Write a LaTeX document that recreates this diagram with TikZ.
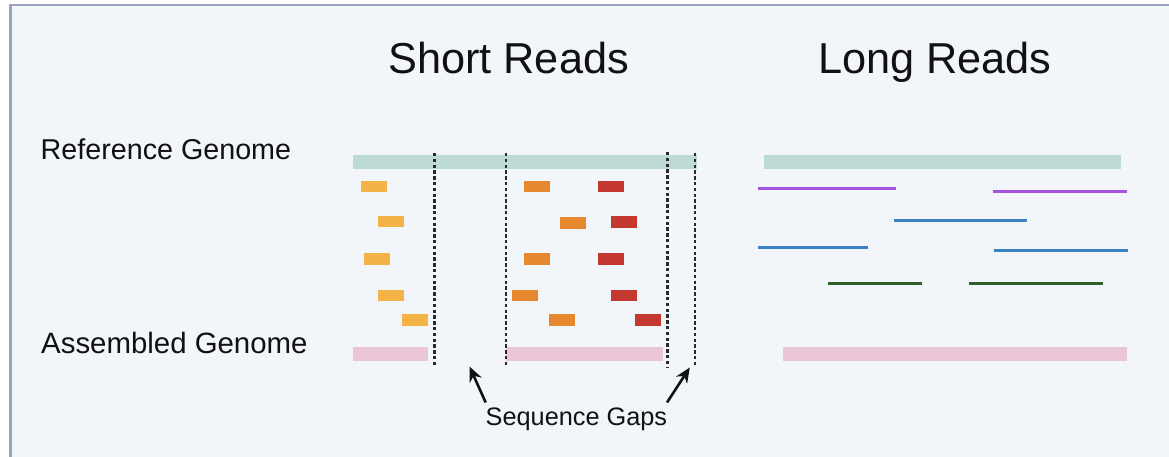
\documentclass[tikz,border=0pt]{standalone}
\usepackage{fontspec}
\setmainfont{Liberation Sans}
\usetikzlibrary{arrows.meta}
\definecolor{bgc}{HTML}{F2F5FA}
\definecolor{framec}{HTML}{9AA3C2}
\definecolor{refc}{HTML}{BDDAD5}
\definecolor{asmc}{HTML}{EBC5D8}
\definecolor{yelc}{HTML}{F4B347}
\definecolor{orac}{HTML}{E6892E}
\definecolor{redc}{HTML}{C4382F}
\definecolor{purc}{HTML}{A353DF}
\definecolor{bluc}{HTML}{3B82C4}
\definecolor{grnc}{HTML}{2E5E2A}
\definecolor{inkc}{HTML}{111111}
\tikzset{
  lbl/.style={inner sep=0pt, anchor=base west, text=inkc},
  refbar/.style={fill=refc},
  asmbar/.style={fill=asmc},
  yread/.style={fill=yelc},
  oread/.style={fill=orac},
  rread/.style={fill=redc},
  lread/.style={line width=2.8pt},
  gapline/.style={line width=2.7pt, draw=inkc!90, dash pattern=on 3.4pt off 2.4pt},
  gaparrow/.style={line width=2.6pt, draw=inkc, -{Stealth[length=15pt,width=13pt]}}
}
\begin{document}
\begin{tikzpicture}[x=1pt,y=-1pt]
\useasboundingbox (0,0) rectangle (1169,457);
\fill[white] (0,0) rectangle (1169,457);
\fill[bgc] (10,5) rectangle (1169,457);
\draw[framec, line width=2.5pt] (10.25,470) -- (10.25,5.25) -- (1180,5.25);

% titles
\node[lbl, font=\fontsize{43.3}{50}\selectfont] (tshort) at (388,74) {Short Reads};
\node[lbl, font=\fontsize{43.3}{50}\selectfont] (tlong) at (818,74) {Long Reads};
\node[lbl, font=\fontsize{28.7}{32}\selectfont] (tref) at (40.5,160) {Reference Genome};
\node[lbl, font=\fontsize{29.4}{32}\selectfont] (tasm) at (41,353) {Assembled Genome};

% short reads: reference and assembled
\fill[refbar] (353,155) rectangle (697,169);
\fill[asmbar] (353,347) rectangle (428,361);
\fill[asmbar] (506,347) rectangle (663,361);

% yellow reads
\fill[yread] (361,181) rectangle (387,192);
\fill[yread] (378,216) rectangle (404,227);
\fill[yread] (364,253) rectangle (390,264.5);
\fill[yread] (378,290) rectangle (404,301);
\fill[yread] (401.5,314) rectangle (427.5,325.5);
% orange reads
\fill[oread] (524,181) rectangle (550,192);
\fill[oread] (560,217) rectangle (586,228.5);
\fill[oread] (524,253) rectangle (550,264.5);
\fill[oread] (512,290) rectangle (538,301);
\fill[oread] (549,314) rectangle (575,325.5);
% red reads
\fill[rread] (597.5,181) rectangle (623.5,192);
\fill[rread] (611,216) rectangle (637,227.5);
\fill[rread] (597.5,253) rectangle (623.5,264.5);
\fill[rread] (611,290) rectangle (637,301);
\fill[rread] (634.5,314) rectangle (660.5,325.5);

% gap boundaries
\draw[gapline] (434.3,153) -- (434.3,367);
\draw[gapline] (506,153) -- (506,367);
\draw[gapline] (667.5,152) -- (667.5,367);
\draw[gapline] (695,153) -- (695,367);

% long reads
\fill[refbar] (764,155) rectangle (1121,169);
\fill[asmbar] (782.5,347) rectangle (1126.5,361);
\draw[lread, purc] (758,188.7) -- (896,188.7);
\draw[lread, purc] (992.5,191.3) -- (1126.5,191.3);
\draw[lread, bluc] (893.5,220.3) -- (1027.3,220.3);
\draw[lread, bluc] (758,247.7) -- (867.7,247.7);
\draw[lread, bluc] (994,250.3) -- (1128,250.3);
\draw[lread, grnc] (828.3,283.3) -- (922,283.3);
\draw[lread, grnc] (969,283.3) -- (1103,283.3);

% sequence gaps label and arrows
\node[lbl, font=\fontsize{25.3}{28}\selectfont] (tgaps) at (485.5,425) {Sequence Gaps};
\coordinate (a1s) at (485.7,402.5);
\coordinate (a1e) at (469.5,366.5);
\coordinate (a2s) at (667,402.5);
\coordinate (a2e) at (689.8,367.5);
\draw[gaparrow] (a1s) -- (a1e);
\draw[gaparrow] (a2s) -- (a2e);
\end{tikzpicture}
\end{document}
